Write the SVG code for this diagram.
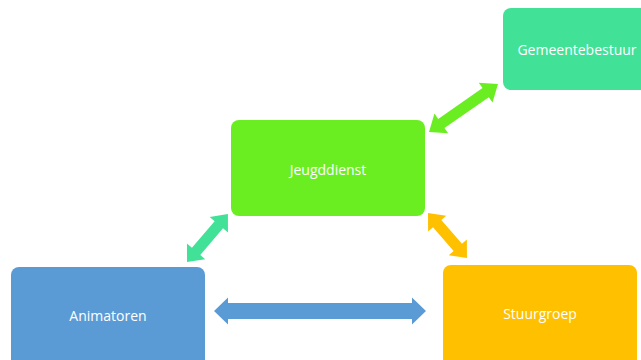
<svg xmlns="http://www.w3.org/2000/svg" width="641" height="360" viewBox="0 0 641 360">
<style>
.lbl{font-family:"Open Sans","Liberation Sans",sans-serif;font-size:14px;fill:#ffffff;text-anchor:middle;dominant-baseline:central}
</style>
<rect width="641" height="360" fill="#ffffff"/>
<g id="connectors">
<path fill="#6AEE22" transform="translate(429,132) rotate(-34.8)" d="M0,0 L15,-12 L15,-5.5 L69,-5.5 L69,-12 L84,0 L69,12 L69,5.5 L15,5.5 L15,12 Z"/>
<path fill="#41E198" transform="translate(187,262) rotate(-49.5)" d="M0,0 L14,-12 L14,-5.5 L49,-5.5 L49,-12 L63,0 L49,12 L49,5.5 L14,5.5 L14,12 Z"/>
<path fill="#FFC000" transform="translate(428,213) rotate(49.1)" d="M0,0 L14,-12 L14,-5.5 L45.5,-5.5 L45.5,-12 L59.5,0 L45.5,12 L45.5,5.5 L14,5.5 L14,12 Z"/>
<path fill="#5B9BD5" transform="translate(214,311)" d="M0,0 L14,-13.5 L14,-8 L198,-8 L198,-13.5 L212,0 L198,13.5 L198,8 L14,8 L14,13.5 Z"/>
</g>
<g id="gemeentebestuur">
<rect x="503" y="8" width="194" height="82" rx="8" fill="#41E198"/>
<text class="lbl" x="577" y="49">Gemeentebestuur</text>
</g>
<g id="jeugddienst">
<rect x="231" y="120" width="194" height="96" rx="8" fill="#6AEE22"/>
<text class="lbl" x="328" y="169">Jeugddienst</text>
</g>
<g id="animatoren">
<rect x="11" y="267" width="194" height="110" rx="8" fill="#5B9BD5"/>
<text class="lbl" x="108" y="315">Animatoren</text>
</g>
<g id="stuurgroep">
<rect x="443" y="265" width="194" height="110" rx="8" fill="#FFC000"/>
<text class="lbl" x="540" y="313">Stuurgroep</text>
</g>
</svg>
